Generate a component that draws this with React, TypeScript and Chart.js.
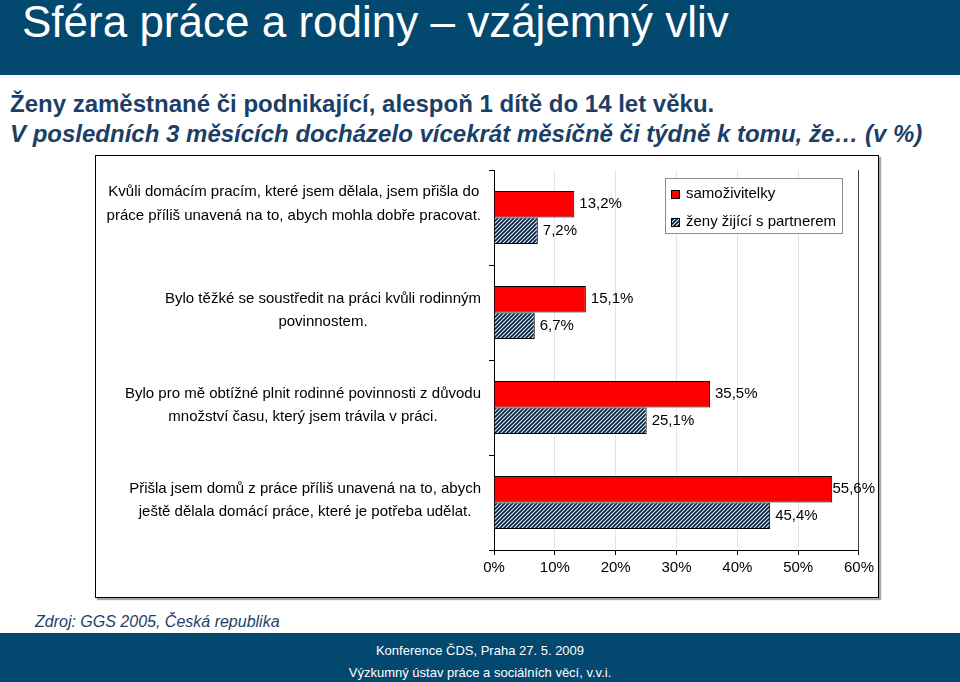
import React, { useEffect, useRef } from "react";
import { Chart, registerables } from "chart.js";

Chart.register(...registerables);

const categories: string[][] = [
  ["Kvůli domácím pracím, které jsem dělala, jsem přišla do", "práce příliš unavená na to, abych mohla dobře pracovat.", ""],
  ["Bylo těžké se soustředit na práci kvůli rodinným", "povinnostem."],
  ["Bylo pro mě obtížné plnit rodinné povinnosti z důvodu", "množství času, který jsem trávila v práci."],
  ["Přišla jsem domů z práce příliš unavená na to, abych", "ještě dělala domácí práce, které je potřeba udělat."],
];
const seriesNames = ["samoživitelky", "ženy žijící s partnerem"];
const singleMothers = [13.2, 15.1, 35.5, 55.6];
const withPartner = [7.2, 6.7, 25.1, 45.4];
const xMin = 0;
const xMax = 60;
const xStep = 10;

const FONT = "'Liberation Sans', Arial, sans-serif";
const NAVY = "#03486e";
const TEXT_NAVY = "#1b3f66";

function makeHatch(ctx: CanvasRenderingContext2D): CanvasPattern | string {
  const c = document.createElement("canvas");
  c.width = 4;
  c.height = 4;
  const g = c.getContext("2d");
  if (!g) return "#3a5f88";
  g.fillStyle = "#f2f7fd";
  g.fillRect(0, 0, 4, 4);
  g.strokeStyle = "#082642";
  g.lineWidth = 1.9;
  g.beginPath();
  g.moveTo(-1, 5);
  g.lineTo(5, -1);
  g.moveTo(-1, 1);
  g.lineTo(1, -1);
  g.moveTo(3, 5);
  g.lineTo(5, 3);
  g.stroke();
  return ctx.createPattern(c, "repeat") || "#3a5f88";
}

const yLabelPlugin = {
  id: "yLabels",
  afterDraw(chart: any) {
    const ys = chart.scales.y;
    const ctx: CanvasRenderingContext2D = chart.ctx;
    ctx.save();
    ctx.font = `15px ${FONT}`;
    ctx.fillStyle = "#000";
    ctx.textAlign = "center";
    ctx.textBaseline = "middle";
    const lh = 23.5;
    (chart.data.labels as string[][]).forEach((lines, i) => {
      const yc = ys.getPixelForValue(i) - 2;
      const w = Math.max(...lines.map((l) => ctx.measureText(l).width));
      const cx = chart.chartArea.left - 13 - w / 2;
      lines.forEach((l, j) => {
        ctx.fillText(l, cx, yc + (j - (lines.length - 1) / 2) * lh);
      });
    });
    ctx.restore();
  },
};

const valueLabelPlugin = {
  id: "valueLabels",
  afterDatasetsDraw(chart: any) {
    const ctx: CanvasRenderingContext2D = chart.ctx;
    ctx.save();
    ctx.font = `15px ${FONT}`;
    ctx.fillStyle = "#000";
    ctx.textAlign = "left";
    ctx.textBaseline = "middle";
    chart.data.datasets.forEach((ds: any, di: number) => {
      const meta = chart.getDatasetMeta(di);
      meta.data.forEach((bar: any, i: number) => {
        const v = ds.data[i] as number;
        const t = v.toFixed(1).replace(".", ",") + "%";
        const w = ctx.measureText(t).width;
        const x = Math.min(bar.x + 5, chart.width - 3 - w);
        ctx.fillText(t, x, bar.y);
      });
    });
    ctx.restore();
  },
};

const legendBoxPlugin = {
  id: "legendBox",
  afterDraw(chart: any) {
    const ctx: CanvasRenderingContext2D = chart.ctx;
    const ca = chart.chartArea;
    const bw = 177;
    const bh = 55;
    const bx = Math.round(ca.right - 17 - bw);
    const by = Math.round(ca.top + 8);
    ctx.save();
    ctx.fillStyle = "#fff";
    ctx.fillRect(bx, by, bw, bh);
    ctx.strokeStyle = "#8c8c8c";
    ctx.lineWidth = 1;
    ctx.strokeRect(bx + 0.5, by + 0.5, bw, bh);
    ctx.font = `15px ${FONT}`;
    ctx.textAlign = "left";
    ctx.textBaseline = "middle";
    chart.data.datasets.forEach((ds: any, k: number) => {
      const y = by + 16 + k * 28;
      ctx.fillStyle = ds.backgroundColor;
      ctx.fillRect(bx + 6, y - 4, 9, 9);
      ctx.strokeStyle = "#000";
      ctx.strokeRect(bx + 6.5, y - 3.5, 8, 8);
      ctx.fillStyle = "#000";
      ctx.fillText(ds.label, bx + 21, y);
    });
    ctx.restore();
  },
};

function BarChart() {
  const ref = useRef<HTMLCanvasElement | null>(null);
  useEffect(() => {
    const canvas = ref.current;
    if (!canvas) return;
    const ctx = canvas.getContext("2d");
    if (!ctx) return;
    const hatch = makeHatch(ctx);
    const chart = new Chart(ctx, {
      type: "bar",
      data: {
        labels: categories as any,
        datasets: [
          {
            label: seriesNames[0],
            data: singleMothers,
            backgroundColor: "#ff0000",
            borderColor: "#000",
            borderWidth: 1,
            categoryPercentage: 0.56,
            barPercentage: 1,
          },
          {
            label: seriesNames[1],
            data: withPartner,
            backgroundColor: hatch as any,
            borderColor: "#000",
            borderWidth: 1,
            categoryPercentage: 0.56,
            barPercentage: 1,
          },
        ],
      },
      options: {
        indexAxis: "y",
        responsive: false,
        animation: false,
        layout: { padding: { top: 14, right: 16, left: 0, bottom: 0 } },
        plugins: {
          legend: { display: false },
          tooltip: { enabled: false },
        },
        scales: {
          x: {
            min: xMin,
            max: xMax,
            ticks: {
              stepSize: xStep,
              callback: (v: any) => `${v}%`,
              font: { size: 15, family: FONT },
              color: "#000",
              padding: 4,
            },
            grid: {
              color: (c: any) => (c.tick && c.tick.value === xMax ? "#404040" : "#e4e4e4"),
              tickColor: "#000",
              tickLength: 5,
            },
            border: { color: "#000" },
            afterFit: (s: any) => {
              s.height = 47;
            },
          },
          y: {
            type: "category",
            offset: true,
            grid: { offset: true, drawOnChartArea: false, tickLength: 5, color: "#000" },
            ticks: { display: false },
            border: { color: "#000" },
            afterFit: (s: any) => {
              s.width = 398;
            },
          },
        },
      } as any,
      plugins: [valueLabelPlugin, yLabelPlugin, legendBoxPlugin],
    });
    return () => chart.destroy();
  }, []);
  return <canvas ref={ref} width={782} height={441} style={{ display: "block" }} />;
}

export default function App() {
  return (
    <div
      style={{
        position: "absolute",
        left: 0,
        top: 0,
        width: 960,
        height: 682,
        background: "#fff",
        overflow: "hidden",
        fontFamily: FONT,
      }}
    >
      <div style={{ position: "absolute", left: 0, top: 0, width: 960, height: 75, background: NAVY }} />
      <div
        style={{
          position: "absolute",
          left: 22,
          top: 0,
          fontSize: 44,
          lineHeight: "44px",
          color: "#fff",
          whiteSpace: "nowrap",
        }}
      >
        Sféra práce a rodiny – vzájemný vliv
      </div>
      <div
        style={{
          position: "absolute",
          left: 10,
          top: 89,
          fontSize: 24,
          lineHeight: "30px",
          fontWeight: "bold",
          color: TEXT_NAVY,
          whiteSpace: "nowrap",
        }}
      >
        <div>Ženy zaměstnané či podnikající, alespoň 1 dítě do 14 let věku.</div>
        <div style={{ fontStyle: "italic" }}>
          V posledních 3 měsících docházelo vícekrát měsíčně či týdně k tomu, že… (v %)
        </div>
      </div>
      <div
        style={{
          position: "absolute",
          left: 95,
          top: 155,
          width: 784,
          height: 443,
          boxSizing: "border-box",
          border: "1px solid #000",
          boxShadow: "2px 2px 1px rgba(0,0,0,0.35)",
          background: "#fff",
        }}
      >
        <BarChart />
      </div>
      <div
        style={{
          position: "absolute",
          left: 35,
          top: 612,
          fontSize: 16,
          lineHeight: "20px",
          fontStyle: "italic",
          color: TEXT_NAVY,
          whiteSpace: "nowrap",
        }}
      >
        Zdroj: GGS 2005, Česká republika
      </div>
      <div style={{ position: "absolute", left: 0, top: 633, width: 960, height: 49, background: NAVY }} />
      <div
        style={{
          position: "absolute",
          left: 0,
          top: 640,
          width: 960,
          textAlign: "center",
          color: "#fff",
          fontSize: 13,
          lineHeight: "22px",
        }}
      >
        <div>Konference ČDS, Praha 27. 5. 2009</div>
        <div>Výzkumný ústav práce a sociálních věcí, v.v.i.</div>
      </div>
    </div>
  );
}
